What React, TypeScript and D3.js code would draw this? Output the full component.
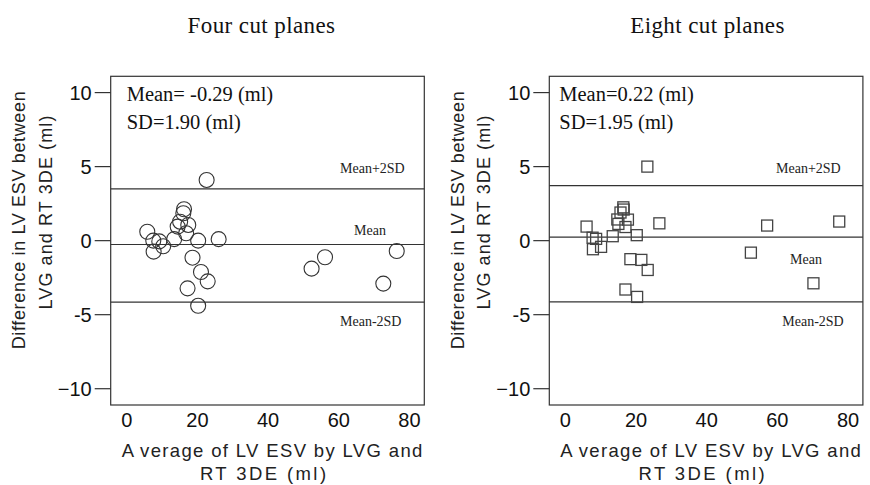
import React from "react";
import * as d3 from "d3";

const panelTitles = ["Four cut planes", "Eight cut planes"];
const statMean = ["Mean= -0.29 (ml)", "Mean=0.22 (ml)"];
const statSD = ["SD=1.90 (ml)", "SD=1.95 (ml)"];
const yTicks = [10, 5, 0, -5, -10];
const yTickLabels = ["10", "5", "0", "-5", "\u221210"];
const xTicks = [0, 20, 40, 60, 80];

const fourX = [22.6, 5.8, 7.5, 9.2, 7.6, 10.3, 13.4, 16.2, 16.0, 15.1, 14.4, 17.4, 16.8, 20.2, 26.0, 18.6, 21.0, 22.9, 17.2, 20.2, 52.3, 56.1, 76.4, 72.6];
const fourY = [4.1, 0.6, 0.0, -0.05, -0.74, -0.38, 0.1, 2.12, 1.85, 1.28, 0.95, 1.06, 0.5, 0.0, 0.1, -1.15, -2.12, -2.75, -3.22, -4.4, -1.89, -1.12, -0.7, -2.9];
const fourLines = [3.5, -0.26, -4.15];

const eightX = [23.2, 6.0, 7.7, 8.7, 7.8, 10.1, 13.4, 16.4, 16.5, 15.6, 14.7, 17.7, 15.0, 17.0, 20.2, 26.6, 18.4, 21.5, 23.3, 17.0, 20.3, 57.1, 77.5, 52.5, 70.2];
const eightY = [5.0, 0.95, 0.2, 0.12, -0.58, -0.42, 0.3, 2.25, 2.1, 1.9, 1.43, 1.42, 1.13, 0.92, 0.37, 1.17, -1.25, -1.3, -1.98, -3.3, -3.8, 1.02, 1.29, -0.81, -2.88];
const eightLines = [3.72, 0.24, -4.14];

const lineLabels = ["Mean+2SD", "Mean", "Mean-2SD"];

const TOP = 76.3;
const BOTTOM = 405;
const W = 313.6;

function Panel({ left, xs, ys, lines, shape, idx, titleX, labelPos, statDx }) {
  const x = d3.scaleLinear().domain([-4.55, 84.2]).range([left, left + W]);
  const y = d3.scaleLinear().domain([-11.1, 11.1]).range([BOTTOM, TOP]);
  const serif = "'Liberation Serif', 'Times New Roman', serif";
  const sans = "'Liberation Sans', Arial, sans-serif";
  const ax = left - 110.7;
  return (
    <g>
      <text x={titleX} y={33.3} textAnchor="middle" fontFamily={serif} fontSize={23} letterSpacing={0.4} fill="#111">
        {panelTitles[idx]}
      </text>
      {/* y axis title */}
      <g fontFamily={sans} fontSize={18} fill="#222" textAnchor="middle">
        <text transform={`translate(${25 + ax},220) rotate(-90)`} letterSpacing={0.65}>Difference in LV ESV between</text>
        <text transform={`translate(${51.5 + ax},212) rotate(-90)`} letterSpacing={1.1}>LVG and RT 3DE (ml)</text>
      </g>
      {/* x axis title */}
      <g fontFamily={sans} fontSize={18.5} fill="#222">
        <text x={left + 11} y={456.5} letterSpacing={1.35}>
          <tspan>A</tspan>
          <tspan dx={5}>verage of LV ESV by LVG and</tspan>
        </text>
        <text x={left + 153.5} y={479.5} textAnchor="middle" letterSpacing={2.4}>RT 3DE (ml)</text>
      </g>
      {/* frame */}
      <rect x={left} y={TOP} width={W} height={BOTTOM - TOP} fill="none" stroke="#333" strokeWidth={1.2} />
      {yTicks.map((t, i) => (
        <g key={t}>
          <line x1={left - 16} x2={left} y1={y(t)} y2={y(t)} stroke="#333" strokeWidth={1.2} />
          <text x={left - 19} y={y(t) + 7} textAnchor="end" fontFamily={sans} fontSize={20} fill="#111">
            {yTickLabels[i]}
          </text>
        </g>
      ))}
      {xTicks.map((t) => (
        <text key={t} x={x(t)} y={427} textAnchor="middle" fontFamily={sans} fontSize={20} fill="#111">
          {t}
        </text>
      ))}
      {lines.map((v, i) => (
        <line key={i} x1={left} x2={left + W} y1={y(v)} y2={y(v)} stroke="#333" strokeWidth={1.2} />
      ))}
      {lineLabels.map((s, i) => (
        <text key={s} x={labelPos[i][0]} y={labelPos[i][1]} fontFamily={serif} fontSize={14} fill="#222">
          {s}
        </text>
      ))}
      <text x={left + statDx} y={101} fontFamily={serif} fontSize={20.5} fill="#111">{statMean[idx]}</text>
      <text x={left + statDx} y={129.3} fontFamily={serif} fontSize={20.5} fill="#111">{statSD[idx]}</text>
      {xs.map((v, i) =>
        shape === "circle" ? (
          <circle key={i} cx={x(v)} cy={y(ys[i])} r={7.5} fill="none" stroke="#333" strokeWidth={1.1} />
        ) : (
          <rect key={i} x={x(v) - 5.5} y={y(ys[i]) - 5.5} width={11} height={11} fill="none" stroke="#444" strokeWidth={1.3} />
        )
      )}
    </g>
  );
}

export default function App() {
  return (
    <div style={{ position: "absolute", left: 0, top: 0 }}>
      <svg width={870} height={485} style={{ display: "block", background: "#fff" }}>
        <Panel
          left={110.7}
          xs={fourX}
          ys={fourY}
          lines={fourLines}
          shape="circle"
          idx={0}
          titleX={261.5}
          statDx={16}
          labelPos={[[340, 172.7], [354, 235], [340, 325.7]]}
        />
        <Panel
          left={549.3}
          xs={eightX}
          ys={eightY}
          lines={eightLines}
          shape="square"
          idx={1}
          titleX={707.5}
          statDx={10}
          labelPos={[[776, 172.7], [790, 264], [782.3, 325.7]]}
        />
      </svg>
    </div>
  );
}
